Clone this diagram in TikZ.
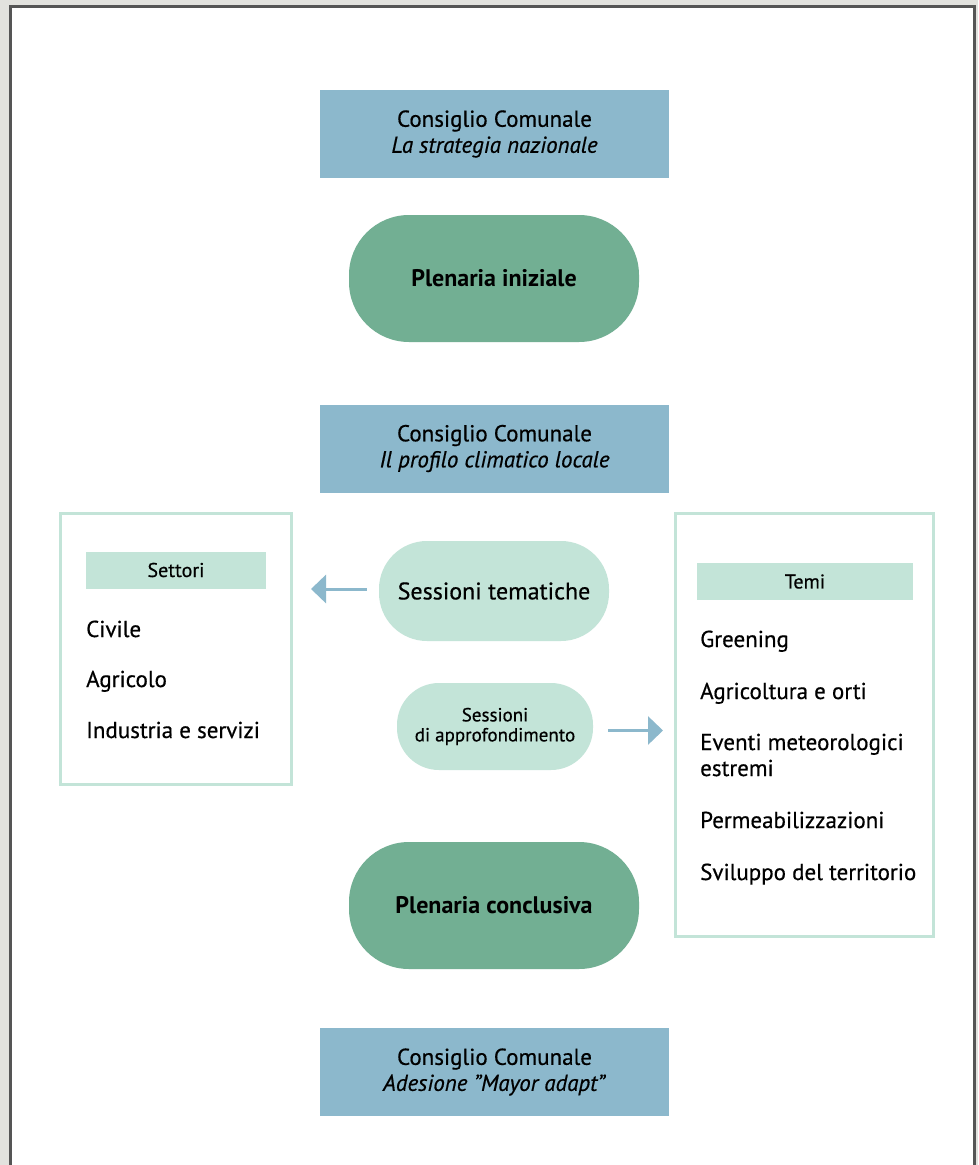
\documentclass[tikz,border=0pt]{standalone}
\usepackage{fontspec}
\setmainfont{PT Sans}[UprightFeatures={FakeBold=0.5},ItalicFeatures={FakeBold=0.5}]
\usetikzlibrary{arrows.meta,positioning}
\definecolor{consblue}{HTML}{8CB8CC}
\definecolor{plengreen}{HTML}{72AF93}
\definecolor{sesgreen}{HTML}{C3E4D8}
\definecolor{pagegray}{HTML}{E2E2DE}
\definecolor{framegray}{HTML}{555555}

\begin{document}
\begin{tikzpicture}[x=1pt,y=-1pt,
    council/.style={fill=consblue, minimum width=349pt, minimum height=88pt,
      inner sep=0pt, align=center, font=\fontsize{23}{26}\selectfont},
    plenary/.style={fill=plengreen, rounded corners=60pt, minimum width=290pt,
      minimum height=127pt, font=\bfseries\fontsize{24}{24}\selectfont},
    session/.style={fill=sesgreen, rounded corners=48pt, minimum width=230pt,
      minimum height=100pt, font=\fontsize{24}{24}\selectfont},
    subsession/.style={fill=sesgreen, rounded corners=42pt, minimum width=196pt,
      minimum height=87pt, align=center, font=\fontsize{19}{20}\selectfont},
    panel/.style={draw=sesgreen, line width=3pt, inner sep=0pt},
    header/.style={fill=sesgreen, minimum height=37pt, inner sep=0pt,
      font=\fontsize{20}{20}\selectfont},
    item/.style={anchor=base west, inner sep=0pt, align=left,
      font=\fontsize{23}{26}\selectfont},
    link/.style={draw=consblue, line width=3pt, -{Triangle[width=28pt,length=15pt]}}]
  \useasboundingbox (0,0) rectangle (978,1165);
  \clip (0,0) rectangle (978,1165);
  \fill[pagegray] (0,0) rectangle (978,1165);
  \draw[framegray, line width=3pt, fill=white] (10,6) rectangle (974,1180);

  \node[council] (cons1) at (494.5,134) {Consiglio Comunale\\\textit{La strategia nazionale}};
  \node[plenary] (plenini) at (494,278.5) {Plenaria iniziale};
  \node[council] (cons2) at (494.5,448.5) {Consiglio Comunale\\\textit{Il profilo climatico locale}};
  \node[session] (tematiche) at (494,591) {Sessioni tematiche};
  \node[subsession] (approf) at (495,726.5) {Sessioni\\di approfondimento};
  \node[plenary] (plenconc) at (494,905.5) {Plenaria conclusiva};
  \node[council] (cons3) at (494.5,1072) {Consiglio Comunale\\\textit{Adesione \symbol{34}Mayor adapt\symbol{34}}};

  \node[panel, minimum width=231pt, minimum height=271pt] (settori) at (176,649) {};
  \node[header, minimum width=180pt] (setthead) at (176,570) {Settori};
  \node[item] (civile) at (86,637) {Civile};
  \node[item] (agricolo) at (86,687) {Agricolo};
  \node[item] (industria) at (86,738) {Industria e servizi};

  \node[panel, minimum width=258pt, minimum height=423pt] (temi) at (804.5,725) {};
  \node[header, minimum width=216pt] (temihead) at (805,581.5) {Temi};
  \node[item] (greening) at (700,647) {Greening};
  \node[item] (orti) at (700,699) {Agricoltura e orti};
  \node[item] (eventi) at (700,776) {Eventi meteorologici\\estremi};
  \node[item] (permeab) at (700,828) {Permeabilizzazioni};
  \node[item] (sviluppo) at (700,880) {Sviluppo del territorio};

  \draw[link] ([xshift=-12pt,yshift=2pt]tematiche.west) -- ([xshift=18pt,yshift=2pt]tematiche.west -| settori.east);
  \draw[link] ([xshift=15pt,yshift=-4pt]approf.east) -- ([xshift=-11pt,yshift=-4pt]approf.east -| temi.west);
\end{tikzpicture}
\end{document}
